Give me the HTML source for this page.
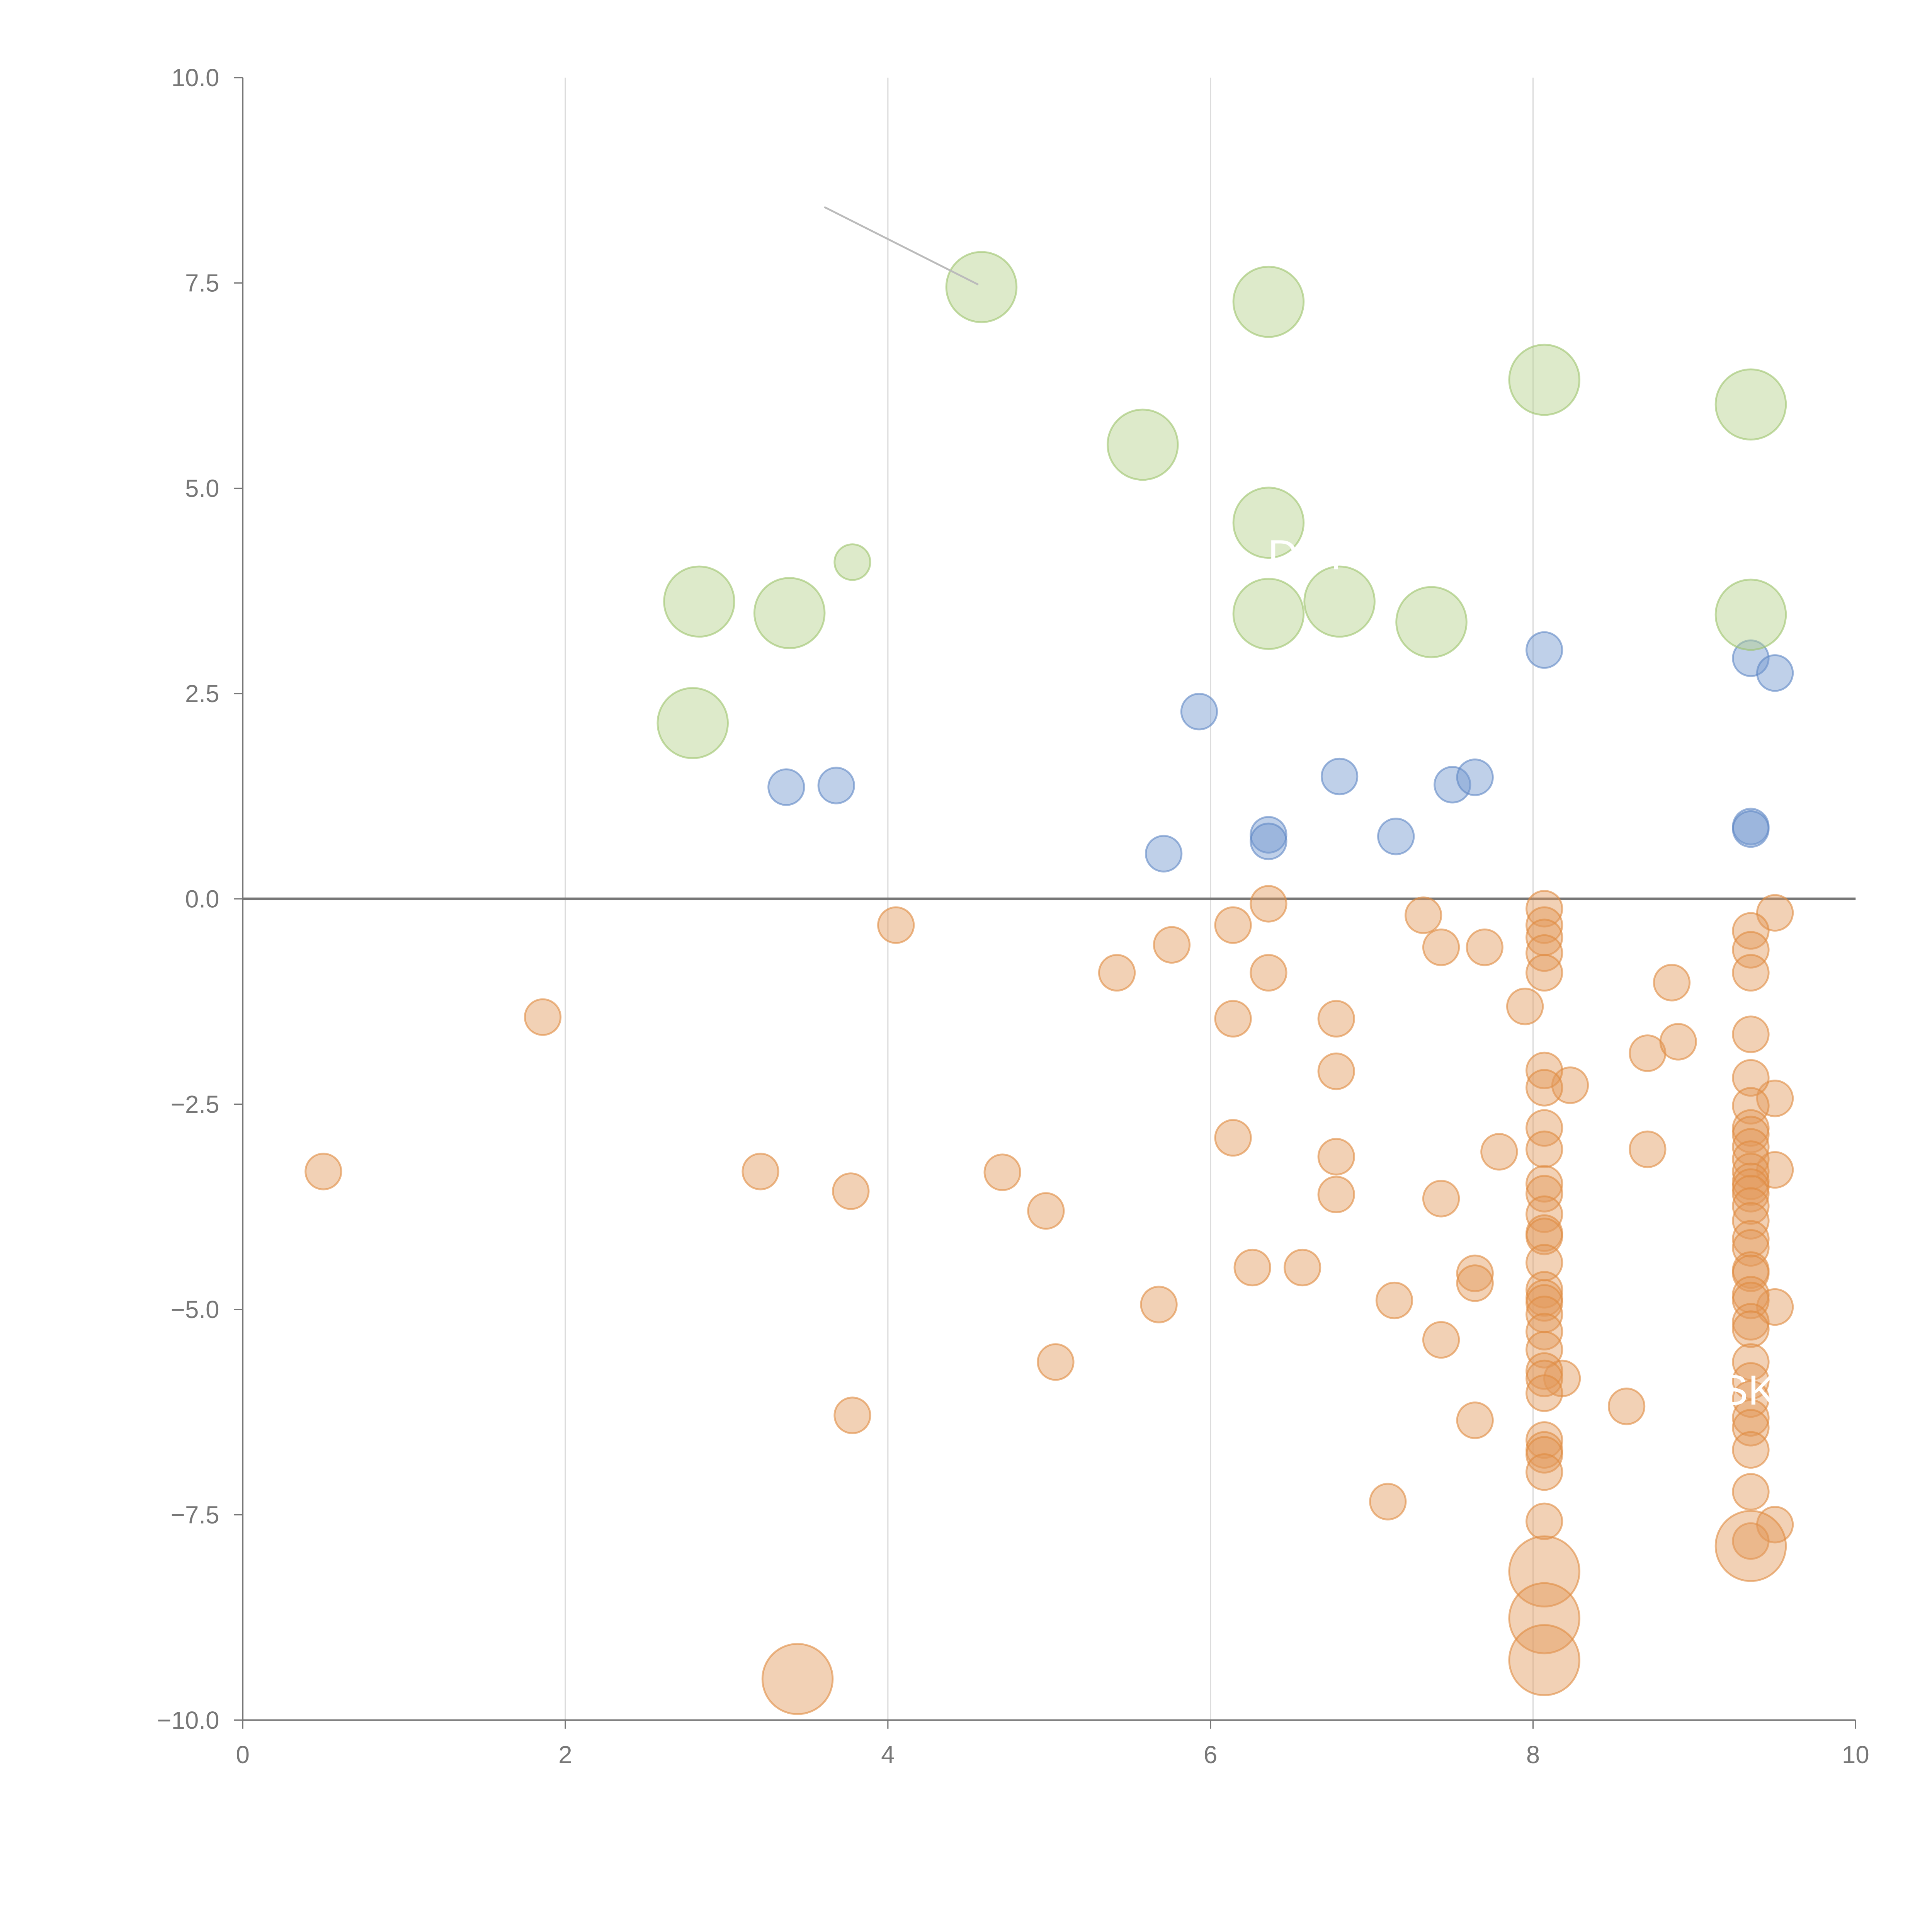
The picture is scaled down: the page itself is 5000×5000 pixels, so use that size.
<!DOCTYPE html>
<html><head><meta charset="utf-8"><style>html,body{margin:0;padding:0;background:#fff}svg{display:block}</style></head>
<body>
<svg id="chart" width="5000" height="5000" viewBox="0 0 1568 1568" xmlns="http://www.w3.org/2000/svg" font-family="Liberation Sans, sans-serif"></svg>
<script>
const greenX=[4.58,6.36,8.07,9.35,5.58,6.36,3.78,2.83,3.39,6.36,6.8,7.37,9.35,2.79];
const greenY=[7.45,7.27,6.32,6.02,5.53,4.58,4.1,3.62,3.48,3.47,3.62,3.37,3.46,2.14];
const greenS=[2,2,2,2,2,2,1,2,2,2,2,2,2,2];
const blueX=[8.07,9.35,9.5,5.93,3.37,3.68,6.8,7.5,7.64,9.35,9.35,6.36,6.36,7.15,5.71];
const blueY=[3.03,2.93,2.75,2.28,1.36,1.38,1.49,1.39,1.48,0.88,0.85,0.78,0.70,0.76,0.55];
const orangeX=[0.5,1.86,3.21,3.77,3.78,4.05,4.71,4.98,5.04,5.42,5.76,5.68,6.14,6.14,6.14,6.26,6.36,6.36,6.57,6.78,6.78,6.78,6.78,7.1,7.14,7.32,7.43,7.43,7.43,7.64,7.64,7.64,7.7,7.79,7.95,8.23,8.18,8.58,8.71,8.71,8.86,8.9,9.5,9.5,9.5,9.5,9.5];
const orangeY=[-3.32,-1.44,-3.32,-3.56,-6.29,-0.32,-3.33,-3.8,-5.64,-0.9,-0.56,-4.94,-0.32,-1.46,-2.91,-4.49,-0.06,-0.9,-4.49,-1.46,-2.1,-3.14,-3.6,-7.34,-4.89,-0.2,-0.59,-3.65,-5.37,-4.56,-4.68,-6.35,-0.59,-3.08,-1.31,-2.27,-5.84,-6.18,-1.88,-3.05,-1.02,-1.74,-0.17,-2.43,-3.3,-4.97,-7.62];
const col8Y=[-0.12,-0.32,-0.47,-0.66,-0.9,-2.09,-2.3,-2.79,-3.05,-3.47,-3.59,-3.84,-4.07,-4.11,-4.43,-4.76,-4.86,-4.92,-5.06,-5.27,-5.49,-5.75,-5.84,-6.02,-6.59,-6.71,-6.77,-6.98,-7.58];
const col9Y=[-0.39,-0.62,-0.9,-1.65,-2.18,-2.52,-2.79,-2.87,-3.02,-3.17,-3.32,-3.44,-3.51,-3.59,-3.74,-3.92,-4.14,-4.25,-4.52,-4.56,-4.82,-4.89,-5.15,-5.24,-5.64,-5.87,-6.09,-6.32,-6.44,-6.71,-7.22,-7.82];
const bigOrangeX=[8.07,8.07,8.07,9.35,3.44];
const bigOrangeY=[-8.19,-8.76,-9.27,-7.88,-9.5];
const xTicks=[0,2,4,6,8,10];
const yTicks=[10,7.5,5,2.5,0,-2.5,-5,-7.5,-10];

const NS='http://www.w3.org/2000/svg';
const svg=document.getElementById('chart');
const sx=v=>197+v*130.9;
const sy=v=>729.5-v*66.65;
const rad=s=>s===2?28.5:14.5;
function mk(tag,attrs,parent){const e=document.createElementNS(NS,tag);for(const k in attrs)e.setAttribute(k,attrs[k]);(parent||svg).appendChild(e);return e;}

xTicks.forEach(t=>{if(t>0&&t<10){const l=mk('line',{x1:sx(t),x2:sx(t),y1:sy(10),y2:sy(-10),stroke:'#dcdcdc','stroke-width':1});

}});
const ya=mk('line',{x1:sx(0),x2:sx(0),y1:sy(10),y2:sy(-10),stroke:'#777','stroke-width':1.2});


const xa=mk('line',{x1:sx(0),x2:sx(10),y1:sy(-10),y2:sy(-10),stroke:'#777','stroke-width':1.2});


xTicks.forEach(t=>{mk('line',{x1:sx(t),x2:sx(t),y1:sy(-10),y2:sy(-10)+7,stroke:'#777'});
const tx=mk('text',{x:sx(t),y:sy(-10)+35,'text-anchor':'middle','font-size':20,fill:'#777'});tx.textContent=t;

});
yTicks.forEach(t=>{mk('line',{x1:sx(0)-7,x2:sx(0),y1:sy(t),y2:sy(t),stroke:'#777'});
const tx=mk('text',{x:sx(0)-19,y:sy(t)+7,'text-anchor':'end','font-size':20,fill:'#777'});tx.textContent=(t<0?'\u2212':'')+Math.abs(t).toFixed(1);

});
const zl=mk('line',{x1:sx(0),x2:sx(10),y1:sy(0),y2:sy(0),stroke:'#777','stroke-width':2.2});



function dot(x,y,r,c,s,name){const e=mk('circle',{cx:sx(x),cy:sy(y),r:r,fill:c,'fill-opacity':0.45,stroke:s,'stroke-opacity':0.6,'stroke-width':1.5});

}
orangeX.forEach((x,i)=>dot(x,orangeY[i],14.5,'#e39a5c','#e08a40','orange-point'));
col8Y.forEach(y=>dot(8.07,y,14.5,'#e39a5c','#e08a40','orange-point'));
col9Y.forEach(y=>dot(9.35,y,14.5,'#e39a5c','#e08a40','orange-point'));
bigOrangeX.forEach((x,i)=>dot(x,bigOrangeY[i],28.5,'#e39a5c','#e08a40','orange-point-large'));
blueX.forEach((x,i)=>dot(x,blueY[i],14.5,'#7097cf','#5f87c4','blue-point'));
greenX.forEach((x,i)=>dot(x,greenY[i],rad(greenS[i]),'#b3d08a','#9cc36a','green-point'));

const ld=mk('line',{x1:669,y1:168,x2:794,y2:231,stroke:'#bbb','stroke-width':1.5});


const t1=mk('text',{x:1029,y:462,'font-size':34,fill:'#fff'});t1.textContent='DOP';


const t2=mk('text',{x:1396,y:1140,'font-size':34,fill:'#fff'});t2.textContent='SK';


</script>
</body></html>
